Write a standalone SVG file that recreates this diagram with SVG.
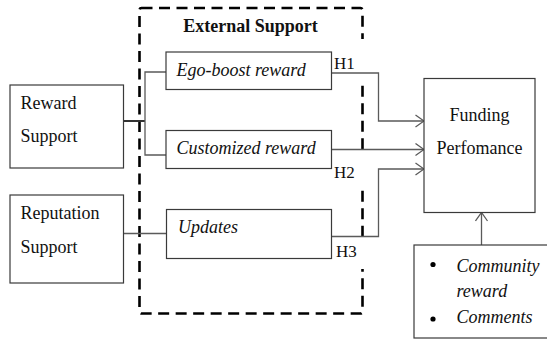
<svg xmlns="http://www.w3.org/2000/svg" width="547" height="340" viewBox="0 0 547 340">
  <style>
    .box { fill: #fff; stroke: #3a3a3a; stroke-width: 1.2; }
    .t { font-family: "Liberation Serif", "Times New Roman", serif; font-size: 18px; fill: #111; }
    .it { font-style: italic; }
    .h { font-family: "Liberation Serif", "Times New Roman", serif; font-size: 17px; fill: #111; }
    .wire { fill: none; stroke: #5a5a5a; stroke-width: 1.3; }
    .arrow { fill: none; stroke: #5a5a5a; stroke-width: 1.3; marker-end: url(#chev); }
    .mask { fill: #fff; stroke: none; }
  </style>
  <defs>
    <marker id="chev" viewBox="0 0 10 14" refX="9.5" refY="7" markerWidth="10" markerHeight="14" markerUnits="userSpaceOnUse" orient="auto">
      <path d="M1,1 L9.5,7 L1,13" fill="none" stroke="#5a5a5a" stroke-width="1.3"/>
    </marker>
  </defs>

  <rect width="547" height="340" fill="#fff"/>

  <!-- External Support frame -->
  <g id="external-support">
    <rect x="139.5" y="8" width="223" height="305.5" rx="2" fill="none" stroke="#000" stroke-width="2.6" stroke-dasharray="11 6.5"/>
    <text class="t" x="250.5" y="32" text-anchor="middle" font-weight="bold" font-size="17">External Support</text>
  </g>

  <!-- hypothesis label backgrounds -->
  <rect class="mask" x="333" y="39" width="32" height="42"/>
  <rect class="mask" x="333" y="151" width="32" height="36"/>
  <rect class="mask" x="333" y="238" width="32" height="31"/>

  <!-- connectors -->
  <g id="connectors">
    <line x1="123.5" y1="121" x2="145" y2="121" stroke="#333" stroke-width="2"/>
    <polyline class="wire" points="166,72 145,72 145,155 166,155"/>
    <line class="wire" x1="123.5" y1="233.5" x2="166.5" y2="233.5"/>
    <polyline class="arrow" points="331.5,73 378.5,73 378.5,121 424,121"/>
    <polyline class="arrow" points="331.5,149.5 424,149.5"/>
    <polyline class="arrow" points="331.5,236.5 378.5,236.5 378.5,169 424,169"/>
    <line class="arrow" x1="481.5" y1="245" x2="481.5" y2="212.5"/>
  </g>

  <g id="h1"><text class="h" x="334" y="69">H1</text></g>
  <g id="h2"><text class="h" x="334" y="178">H2</text></g>
  <g id="h3"><text class="h" x="336" y="257">H3</text></g>

  <g id="reward-support">
    <rect class="box" x="10" y="85" width="113.5" height="83"/>
    <text class="t" x="20.5" y="109">Reward</text>
    <text class="t" x="20.5" y="142">Support</text>
  </g>

  <g id="reputation-support">
    <rect class="box" x="10" y="195" width="113.5" height="88"/>
    <text class="t" x="20.5" y="219">Reputation</text>
    <text class="t" x="20.5" y="253">Support</text>
  </g>

  <g id="ego-boost">
    <rect class="box" x="166" y="52" width="165.5" height="37.5"/>
    <text class="t it" x="176.5" y="76">Ego-boost reward</text>
  </g>

  <g id="customized">
    <rect class="box" x="166" y="130.5" width="165.5" height="38"/>
    <text class="t it" x="176.5" y="153.5">Customized reward</text>
  </g>

  <g id="updates">
    <rect class="box" x="166.5" y="209.5" width="165" height="49"/>
    <text class="t it" x="178" y="233">Updates</text>
  </g>

  <g id="funding">
    <rect class="box" x="424" y="78.5" width="111" height="134"/>
    <text class="t" x="479.5" y="121" text-anchor="middle">Funding</text>
    <text class="t" x="479.5" y="154" text-anchor="middle">Perfomance</text>
  </g>

  <g id="moderators">
    <rect class="box" x="414" y="245" width="140" height="93"/>
    <circle cx="433" cy="264.5" r="2.6" fill="#000"/>
    <circle cx="433" cy="319" r="2.6" fill="#000"/>
    <text class="t it" x="456.5" y="272">Community</text>
    <text class="t it" x="456.5" y="297">reward</text>
    <text class="t it" x="456.5" y="323">Comments</text>
  </g>
</svg>
